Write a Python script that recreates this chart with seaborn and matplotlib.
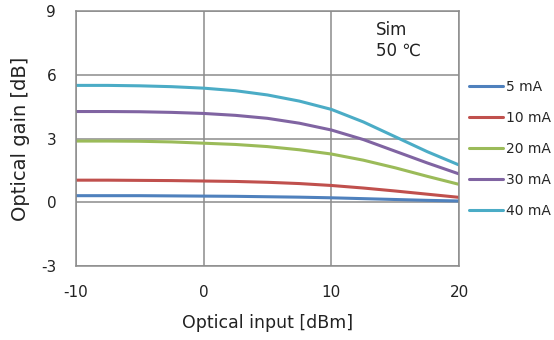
import pandas as pd
import matplotlib
matplotlib.use("Agg")
import matplotlib.pyplot as plt
import seaborn as sns

# Optical input [dBm]
optical_input = [-10, -7.5, -5, -2.5, 0, 2.5, 5, 7.5, 10, 12.5, 15, 17.5, 20]

# Optical gain [dB] per bias current
gain_5ma = [0.31, 0.31, 0.31, 0.30, 0.29, 0.28, 0.26, 0.24, 0.21, 0.17, 0.13, 0.09, 0.06]
gain_10ma = [1.04, 1.04, 1.03, 1.02, 1.00, 0.98, 0.94, 0.88, 0.79, 0.67, 0.53, 0.38, 0.23]
gain_20ma = [2.88, 2.88, 2.87, 2.84, 2.78, 2.72, 2.62, 2.47, 2.27, 1.98, 1.62, 1.22, 0.84]
gain_30ma = [4.27, 4.27, 4.26, 4.23, 4.18, 4.09, 3.95, 3.72, 3.40, 2.95, 2.40, 1.85, 1.33]
gain_40ma = [5.50, 5.50, 5.48, 5.44, 5.37, 5.25, 5.05, 4.76, 4.37, 3.78, 3.08, 2.38, 1.75]

currents = ["5 mA", "10 mA", "20 mA", "30 mA", "40 mA"]
colors = ["#4F81BD", "#C0504D", "#9BBB59", "#8064A2", "#4BACC6"]

x_ticks = [-10, 0, 10, 20]
y_ticks = [-3, 0, 3, 6, 9]


def plot_gain():
    series = [gain_5ma, gain_10ma, gain_20ma, gain_30ma, gain_40ma]
    rows = []
    for cur, vals in zip(currents, series):
        for x, y in zip(optical_input, vals):
            rows.append({"input": x, "gain": y, "current": cur})
    df = pd.DataFrame(rows)

    sns.set_style("white")
    plt.rcParams["font.family"] = ["DejaVu Sans"]
    plt.rcParams["axes.unicode_minus"] = False

    fig = plt.figure(figsize=(5.54, 3.40), dpi=100)
    ax = fig.add_axes([0.1366, 0.2176, 0.6924, 0.75])

    sns.lineplot(data=df, x="input", y="gain", hue="current", hue_order=currents,
                 palette=colors, linewidth=2.2, ax=ax)

    ax.set_xlim(-10, 20)
    ax.set_ylim(-3, 9)
    ax.set_xticks(x_ticks)
    ax.set_yticks(y_ticks)
    ax.tick_params(length=0, labelsize=11, colors="#222222")
    ax.tick_params(axis="x", pad=14)
    ax.tick_params(axis="y", pad=14)
    ax.grid(True, color="#8c8c8c", linewidth=1.1)
    for sp in ax.spines.values():
        sp.set_color("#8c8c8c")
        sp.set_linewidth(1.1)

    ax.set_xlabel("Optical input [dBm]", fontsize=12.5, color="#222222", labelpad=10)
    ax.set_ylabel("Optical gain [dB]", fontsize=14, color="#222222", labelpad=8)

    ax.text(0.782, 0.961, "Sim\n50 \u2103", transform=ax.transAxes, fontsize=12,
            va="top", ha="left", linespacing=1.2, color="#222222")

    ax.legend(loc="upper left", bbox_to_anchor=(1.011, 0.753), frameon=False,
              fontsize=10, handlelength=2.45, handletextpad=0.2, labelspacing=1.23,
              borderaxespad=0)

    fig.savefig("out.png", dpi=100)


if __name__ == "__main__":
    plot_gain()
